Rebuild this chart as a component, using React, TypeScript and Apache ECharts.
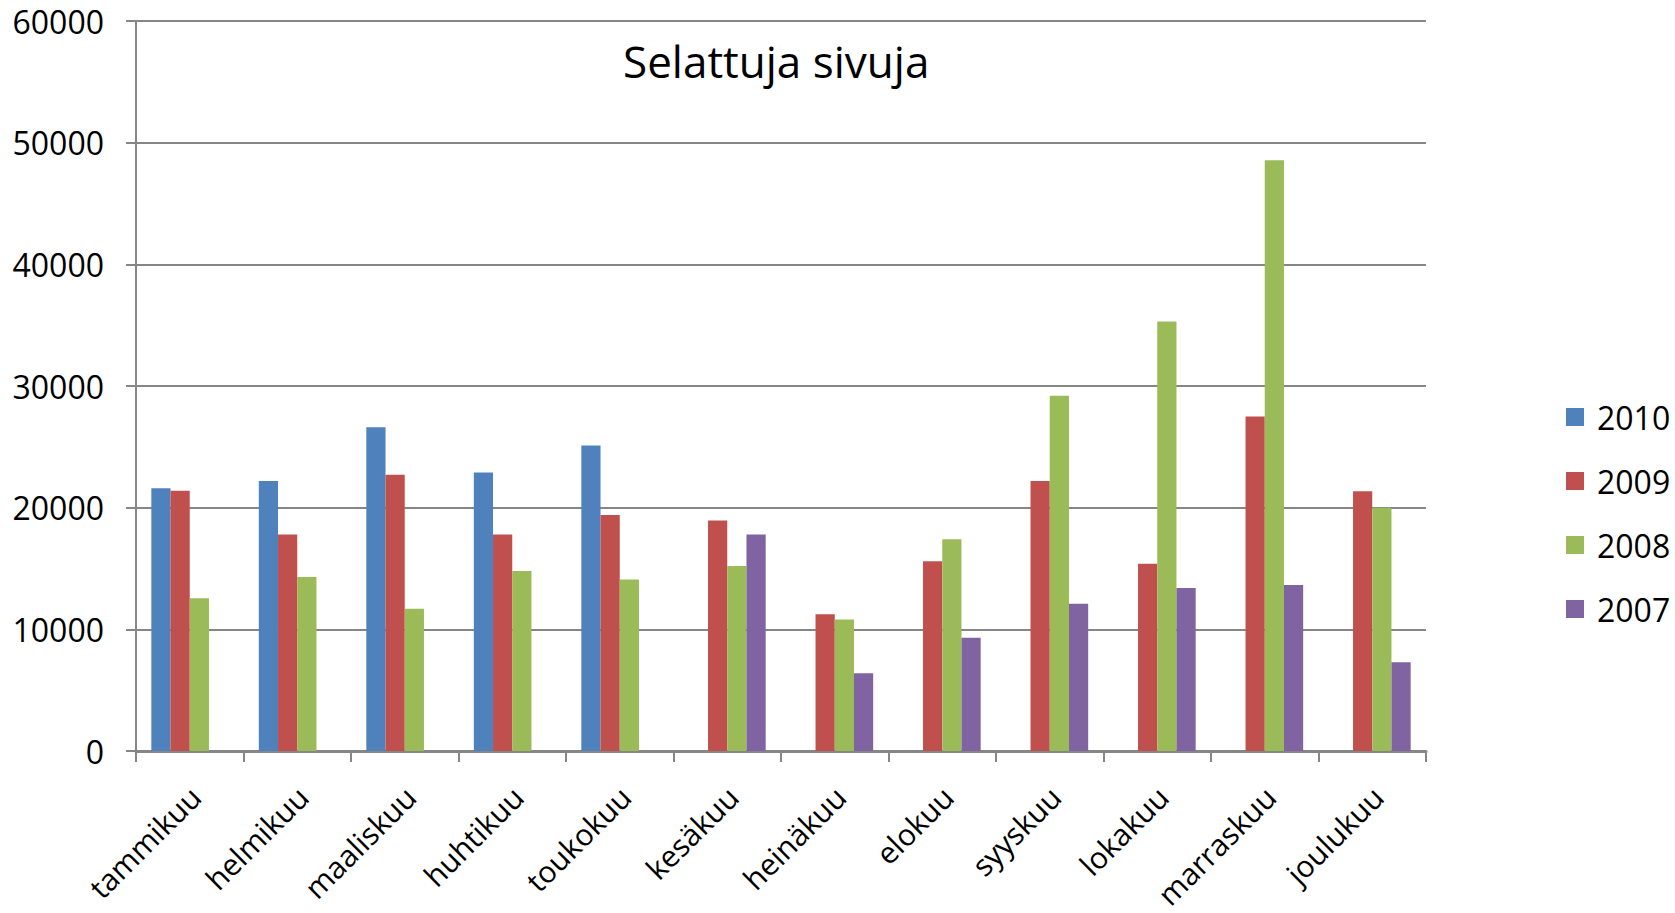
import React, { useEffect, useRef } from "react";
import * as echarts from "echarts";

const months = [
  "tammikuu", "helmikuu", "maaliskuu", "huhtikuu", "toukokuu", "kesäkuu",
  "heinäkuu", "elokuu", "syyskuu", "lokakuu", "marraskuu", "joulukuu",
];
const seriesNames = ["2010", "2009", "2008", "2007"];
const values2010 = [21600, 22200, 26600, 22900, 25100, null, null, null, null, null, null, null];
const values2009 = [21400, 17800, 22700, 17800, 19400, 18950, 11250, 15600, 22200, 15400, 27500, 21350];
const values2008 = [12550, 14300, 11700, 14800, 14100, 15200, 10800, 17400, 29200, 35300, 48550, 20000];
const values2007 = [null, null, null, null, null, 17800, 6400, 9300, 12100, 13400, 13650, 7300];
const colors = ["#4F81BD", "#C0504D", "#9BBB59", "#8064A2"];
const titleText = "Selattuja sivuja";

const FONT = "'Open Sans', 'Noto Sans', sans-serif";
const GRAY = "#868686";

export default function App() {
  const ref = useRef<HTMLDivElement>(null);
  useEffect(() => {
    const chart = echarts.init(ref.current!, null, { renderer: "svg" });
    const allValues = [values2010, values2009, values2008, values2007];
    chart.setOption({
      animation: false,
      backgroundColor: "#ffffff",
      color: colors,
      title: {
        text: titleText,
        left: 623,
        top: 39,
        padding: 0,
        textStyle: { fontFamily: FONT, fontSize: 44, fontWeight: "normal", color: "#000" },
      },
      legend: {
        orient: "vertical",
        left: 1561,
        top: 396,
        itemWidth: 18,
        itemHeight: 18,
        itemGap: 32,
        icon: "rect",
        data: seriesNames,
        textStyle: { fontFamily: FONT, fontSize: 32, lineHeight: 32, color: "#000", padding: [0, 0, 0, 8] },
      },
      grid: { left: 136, right: 249, top: 21, bottom: 162, containLabel: false, outerBoundsMode: "none" },
      xAxis: {
        type: "category",
        data: months,
        boundaryGap: true,
        axisLine: { show: true, lineStyle: { color: GRAY, width: 3 } },
        axisTick: { show: true, alignWithLabel: false, interval: 0, length: 11, lineStyle: { color: GRAY, width: 2 } },
        axisLabel: {
          interval: 0,
          rotate: 45,
          align: "right",
          verticalAlign: "top",
          margin: 25,
          padding: [0, 7, 0, 0],
          fontFamily: FONT,
          fontSize: 30,
          color: "#000",
        },
        splitLine: { show: false },
      },
      yAxis: {
        type: "value",
        min: 0,
        max: 60000,
        interval: 10000,
        axisLine: { show: true, lineStyle: { color: GRAY, width: 2 } },
        axisTick: { show: true, length: 10, lineStyle: { color: GRAY, width: 2 } },
        axisLabel: {
          margin: 32,
          fontFamily: FONT,
          fontSize: 32,
          color: "#000",
          formatter: (v: number) => String(v),
        },
        splitLine: { show: true, lineStyle: { color: GRAY, width: 2 } },
      },
      series: seriesNames.map((name, i) => ({
        name,
        type: "bar",
        data: allValues[i],
        barGap: "0%",
        barCategoryGap: "28.5%",
        itemStyle: { color: colors[i] },
      })),
    });
    return () => chart.dispose();
  }, []);
  return (
    <div
      ref={ref}
      style={{ position: "absolute", left: 0, top: 0, width: 1675, height: 913, background: "#fff" }}
    />
  );
}
